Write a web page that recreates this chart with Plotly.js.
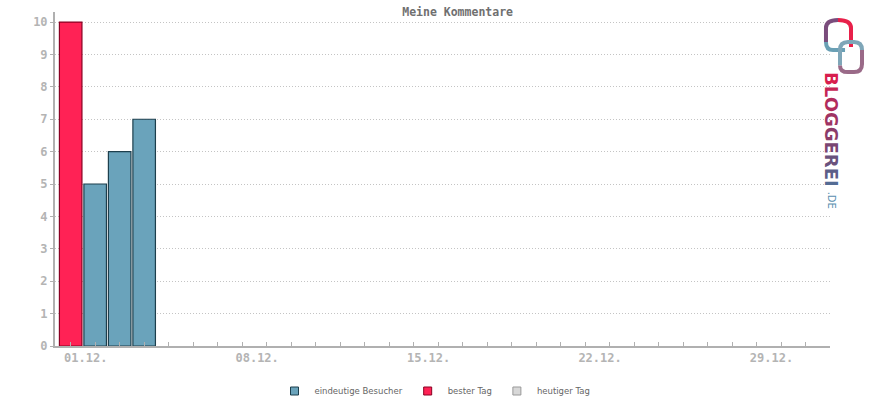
<!DOCTYPE html>
<html><head><meta charset="utf-8">
<script src="https://cdn.plot.ly/plotly-3.0.1.min.js"></script>
<style>html,body{margin:0;padding:0;background:#fff}#chart{width:870px;height:400px}</style>
</head><body><div id="chart"></div>
<script>
// Data
const visitorDays = [2, 3, 4];
const visitorValues = [5, 6, 7];
const bestDays = [1];
const bestValues = [10];
const todayDays = [];
const todayValues = [];
const allDays = Array.from({length: 31}, (_, i) => i + 1);
const tickLabels = {1: "01.12.", 8: "08.12.", 15: "15.12.", 22: "22.12.", 29: "29.12."};
const yTicks = [0,1,2,3,4,5,6,7,8,9,10];
const seriesNames = ["eindeutige Besucher", "bester Tag", "heutiger Tag"];

const mono = "DejaVu Sans Mono, monospace";
const gray = "#b0b0b0";
const fills = ["#6aa3bb", "#ff2255", "#d8d8d8"];
const borders = ["#1d3f4d", "#8a0022", "#999999"];

const traces = [
  {type: "bar", name: seriesNames[0], x: visitorDays, y: visitorValues, showlegend: false,
   marker: {color: fills[0], line: {color: borders[0], width: 1.2}}},
  {type: "bar", name: seriesNames[1], x: bestDays, y: bestValues, showlegend: false,
   marker: {color: fills[1], line: {color: borders[1], width: 1.2}}},
  {type: "bar", name: seriesNames[2], x: todayDays, y: todayValues, showlegend: false,
   marker: {color: fills[2], line: {color: borders[2], width: 1.2}}}
];
// legend entries (small square keys)
seriesNames.forEach((n, i) => traces.push({
  type: "scatter", mode: "markers", name: n, x: [null], y: [null],
  marker: {symbol: "square", size: 8, color: fills[i], line: {color: borders[i], width: 1}}
}));

const bloggerei = "BLOGGEREI".split("");
const logoColors = ["#d81e4e","#c52555","#b22c5c","#9f3463","#8c3c6a","#7a4672","#69527c","#5c5f88","#546c94"];
const logoText = bloggerei.map((c, i) => `<span style="color:${logoColors[i]}">${c}</span>`).join("");

const layout = {
  width: 870, height: 400,
  margin: {l: 55, r: 40, t: 12, b: 54},
  paper_bgcolor: "#fff", plot_bgcolor: "#fff",
  barmode: "overlay", bargap: 0.08,
  showlegend: true,
  legend: {orientation: "h", x: 0.5, xanchor: "center", xref: "container",
           y: 0.0225, yref: "container", yanchor: "middle",
           font: {family: "DejaVu Sans, sans-serif", size: 8.5, color: "#666"},
           itemwidth: 30, tracegroupgap: 0},
  title: {text: "Meine Kommentare", x: 0.526, xref: "container", xanchor: "center",
          y: 0.97, yref: "container", yanchor: "middle",
          font: {family: mono, size: 11.5, color: "#707070", weight: "bold"}},
  xaxis: {range: [0.36, 32], tickvals: allDays,
          ticktext: allDays.map(d => tickLabels[d] || ""),
          ticks: "inside", ticklen: 4, tickcolor: gray, tickwidth: 1,
          showline: true, linecolor: gray, linewidth: 2,
          showgrid: false, zeroline: false, ticklabelshift: 15,
          tickfont: {family: mono, size: 12, color: "#b4b4b4", weight: "bold"}},
  yaxis: {range: [0, 10.31], tickvals: yTicks,
          ticks: "outside", ticklen: 3, tickcolor: gray,
          showline: true, linecolor: gray, linewidth: 2,
          showgrid: true, gridcolor: "#c4c4c4", griddash: "1px,2px", gridwidth: 1,
          zeroline: false,
          tickfont: {family: mono, size: 12, color: "#b4b4b4", weight: "bold"}},
  shapes: [
    // upper link: right leg red
    {type: "path", xref: "paper", yref: "paper",
     path: "M 1.0271 0.895 L 1.0271 0.952 Q 1.0271 0.976 1.0103 0.976",
     line: {color: "#e8204a", width: 4}},
    // upper link: left arch purple
    {type: "path", xref: "paper", yref: "paper",
     path: "M 1.0103 0.976 Q 0.9948 0.976 0.9948 0.952 L 0.9948 0.91",
     line: {color: "#7a4c7c", width: 4}},
    // upper link: curl blue
    {type: "path", xref: "paper", yref: "paper",
     path: "M 0.9948 0.91 Q 0.9948 0.886 1.0039 0.886 L 1.0194 0.886",
     line: {color: "#6aa0b5", width: 4}},
    // lower link: top-left blue-gray
    {type: "path", xref: "paper", yref: "paper",
     path: "M 1.0129 0.84 L 1.0129 0.886 Q 1.0129 0.910 1.0232 0.910 L 1.031 0.910 Q 1.0413 0.910 1.0413 0.886",
     line: {color: "#7fa6b8", width: 4}},
    // lower link: bottom-right mauve
    {type: "path", xref: "paper", yref: "paper",
     path: "M 1.0413 0.886 L 1.0413 0.844 Q 1.0413 0.820 1.031 0.820 L 1.0232 0.820 Q 1.0129 0.820 1.0129 0.84",
     line: {color: "#9a6a88", width: 4}}
  ],
  annotations: [
    {text: "<b>" + logoText + "</b>", xref: "paper", yref: "paper", x: 1.002, y: 0.826,
     xanchor: "center", yanchor: "top", textangle: 90, showarrow: false,
     font: {family: "DejaVu Sans, sans-serif", size: 18, color: "#b03060"}},
    {text: ".DE", xref: "paper", yref: "paper", x: 1.002, y: 0.468,
     xanchor: "center", yanchor: "top", textangle: 90, showarrow: false,
     font: {family: "DejaVu Sans, sans-serif", size: 10, color: "#5a8fb0"}}
  ]
};

Plotly.newPlot("chart", traces, layout, {displayModeBar: false, staticPlot: true});
</script>
</body></html>
